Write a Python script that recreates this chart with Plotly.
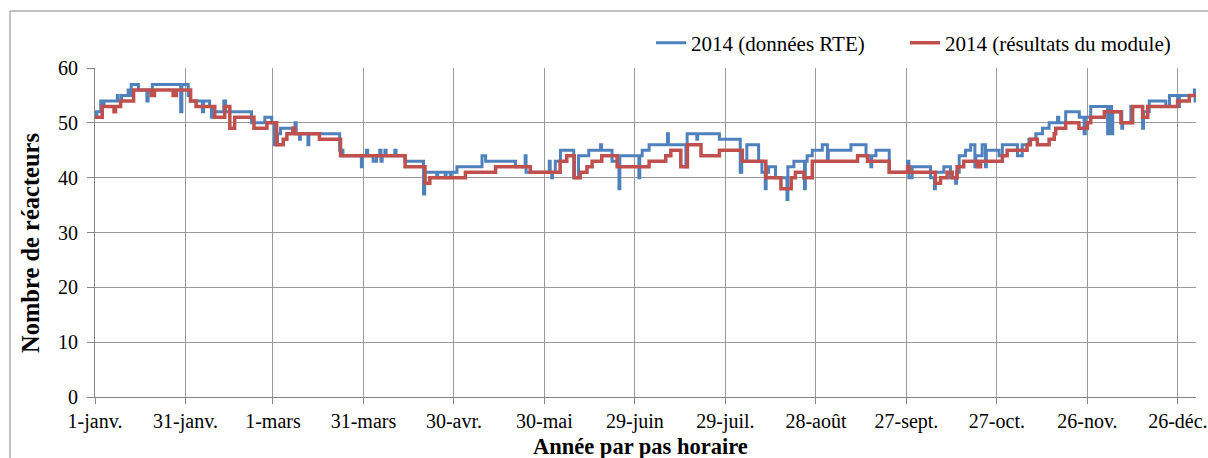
import plotly.graph_objects as go

# Tick labels (day-of-year positions)
tick_days = [0, 30, 59, 89, 119, 149, 179, 209, 239, 269, 299, 329, 359]
tick_labels = ["1-janv.", "31-janv.", "1-mars", "31-mars", "30-avr.", "30-mai", "29-juin",
               "29-juil.", "28-août", "27-sept.", "27-oct.", "26-nov.", "26-déc."]

# 2014 (données RTE) : step change points (day of year, number of reactors)
rte_days = [0, 0.3, 0.6, 1.9, 2.6, 3.0, 7.0, 7.4, 7.7, 8.8, 11.0, 11.4, 12.0, 14.0, 14.4,
            16.8, 17.2, 17.6, 19.0, 28.4, 28.8, 30.9, 31.6, 35.6, 36.0, 38.0, 38.6, 39.3,
            42.7, 43.3, 51.9, 56.3, 58.6, 59.5, 60.5, 61.5, 66.3, 66.7, 67.8, 68.1, 70.6,
            70.9, 81.1, 82.2, 88.3, 88.6, 90.0, 90.4, 92.2, 93.3, 94.4, 94.8, 95.2, 96.1,
            96.5, 99.4, 99.8, 102.8, 108.9, 109.3, 113.3, 113.6, 116.1, 116.4, 117.8, 118.1,
            120.0, 128.3, 129.5, 139.4, 142.6, 142.9, 150.6, 150.9, 151.4, 151.7, 152.6,
            154.3, 158.7, 160.3, 163.7, 167.6, 167.9, 171.4, 173.7, 174.0, 180.3, 180.6,
            181.4, 183.7, 189.8, 190.1, 195.9, 196.3, 199.5, 199.8, 207.0, 213.9, 214.4,
            216.1, 220.0, 221.1, 222.2, 222.5, 223.3, 225.6, 229.4, 229.7, 231.7, 235.2,
            235.5, 236.1, 237.8, 241.1, 242.8, 243.1, 250.6, 255.6, 257.2, 257.5, 258.9,
            263.3, 269.4, 269.8, 270.9, 277.0, 278.3, 278.6, 281.4, 283.6, 285.3, 285.6,
            286.5, 288.6, 290.3, 291.7, 292.0, 294.1, 295.2, 295.5, 299.7, 300.8, 305.8,
            307.4, 309.6, 311.9, 314.1, 316.3, 319.1, 319.5, 321.8, 326.3, 327.9, 328.3,
            330.1, 335.7, 336.1, 337.0, 337.4, 340.4, 340.7, 343.4, 347.3, 347.6, 349.5,
            355.0, 356.2, 358.9, 359.5, 364.5, 364.7, 365.0]
rte_values = [52, 51, 52, 54, 53, 54, 54, 55, 54, 55, 56, 55, 57, 57, 56,
              56, 54, 56, 57, 52, 57, 55, 54, 52, 54, 53, 51, 52,
              54, 52, 50, 51, 50, 46, 48, 49, 50, 48, 47, 48, 46,
              48, 45, 44, 42, 44, 45, 44, 43, 44, 45, 43, 44, 45,
              44, 45, 44, 43, 37, 41, 40, 41, 40, 41, 40, 41,
              42, 44, 43, 42, 44, 41, 43, 41, 40, 41, 43,
              45, 40, 44, 45, 46, 45, 43, 38, 44, 40, 44,
              45, 46, 48, 46, 42, 48, 47, 48, 47, 41, 43,
              46, 43, 41, 38, 41, 42, 40, 36, 42, 43, 38,
              43, 44, 45, 46, 43, 45, 46, 44, 42, 44, 45,
              41, 43, 40, 42, 40, 38, 41, 42, 40, 39, 41,
              44, 45, 46, 42, 44, 46, 42, 45, 44, 46, 44,
              46, 47, 48, 49, 50, 51, 50, 52, 51, 48, 51,
              53, 48, 53, 48, 52, 49, 50, 53, 49, 52, 54,
              53, 55, 53, 55, 56, 54, 54]

# 2014 (résultats du module) : step change points
module_days = [0, 2.4, 6.3, 6.8, 8.5, 12.8, 18.6, 19.7, 25.9, 27.0, 31.7, 33.5, 39.7, 43.0,
               44.7, 46.3, 52.7, 57.0, 60.2, 62.4, 63.6, 65.6, 66.2, 74.4, 81.4, 102.8,
               109.4, 111.0, 122.8, 132.8, 144.3, 154.2, 156.4, 158.9, 160.9, 163.1, 164.8,
               168.0, 173.1, 183.7, 189.2, 190.9, 194.2, 196.4, 200.9, 207.0, 214.6, 222.4,
               227.4, 230.8, 232.2, 235.0, 237.8, 252.8, 256.1, 263.3, 269.4, 269.9, 278.6,
               280.3, 282.5, 284.2, 285.8, 288.0, 292.5, 293.6, 300.8, 302.4, 309.0, 310.1,
               312.4, 316.3, 318.0, 318.5, 321.8, 326.2, 329.0, 330.1, 334.6, 340.1, 344.0,
               347.3, 349.0, 358.9, 362.8, 365.0]
module_values = [51, 53, 52, 53, 54, 56, 55, 56, 55, 56, 54, 53, 51, 53,
                 49, 51, 49, 50, 46, 47, 48, 49, 48, 47, 44, 42,
                 39, 40, 41, 42, 41, 43, 44, 40, 41, 42, 43,
                 44, 42, 43, 44, 45, 42, 46, 44, 45, 43, 40,
                 38, 40, 41, 40, 43, 44, 43, 41, 42, 41, 39,
                 40, 41, 40, 42, 43, 42, 43, 44, 45, 46, 47,
                 46, 47, 48, 49, 50, 49, 50, 51, 52, 50, 53,
                 51, 53, 54, 55, 55]

x_title = "Année par pas horaire"
y_title = "Nombre de réacteurs"

FONT = "Liberation Serif"
GRID = "#9a9a9a"

fig = go.Figure()
fig.add_trace(go.Scatter(x=rte_days, y=rte_values, mode="lines", line_shape="hv",
                         name="2014 (données RTE)", legend="legend", showlegend=True,
                         line=dict(color="#4F81BD", width=3)))
fig.add_trace(go.Scatter(x=module_days, y=module_values, mode="lines", line_shape="hv",
                         name="2014 (résultats du module)", legend="legend2", showlegend=True,
                         line=dict(color="#C0504D", width=3.5)))

L, R, T, B = 95, 12, 68, 61
W, H = 1208, 458
pw, ph = W - L - R, H - T - B


def px(xp):
    return (xp - L) / pw


def py(yp):
    return (H - B - yp) / ph


legend_style = dict(orientation="h", xanchor="left", y=py(43), yanchor="middle",
                    font=dict(family=FONT, size=21), bgcolor="rgba(0,0,0,0)",
                    visible=True)

fig.update_layout(
    width=W, height=H,
    showlegend=True,
    margin=dict(l=L, r=R, t=T, b=B, autoexpand=False),
    paper_bgcolor="white", plot_bgcolor="white",
    font=dict(family=FONT, size=20, color="black"),
    legend=dict(x=px(651), **legend_style),
    legend2=dict(x=px(905), **legend_style),
    shapes=[dict(type="rect", xref="paper", yref="paper", layer="below",
                 x0=px(10), x1=px(1215), y0=py(470), y1=py(11),
                 line=dict(color="#868686", width=1), fillcolor="rgba(0,0,0,0)")],
    annotations=[
        dict(text="<b>" + x_title + "</b>", xref="paper", yref="paper",
             x=px(640), y=py(446), xanchor="center", yanchor="middle", showarrow=False,
             font=dict(family=FONT, size=22.5)),
        dict(text="<b>" + y_title + "</b>", xref="paper", yref="paper", textangle=-90,
             x=px(30), y=py(243), xanchor="center", yanchor="middle", showarrow=False,
             font=dict(family=FONT, size=24.5)),
    ],
)
fig.update_xaxes(range=[0, 365], tickmode="array", tickvals=tick_days, ticktext=tick_labels,
                 showgrid=True, gridcolor=GRID, gridwidth=1,
                 showline=True, linecolor="#868686", linewidth=1,
                 ticks="outside", ticklen=6, tickcolor="#868686",
                 tickfont=dict(family=FONT, size=20),
                 zeroline=False, automargin=False)
fig.update_yaxes(range=[0, 60], dtick=10, showgrid=True, gridcolor=GRID, gridwidth=1,
                 showline=True, linecolor="#868686", linewidth=1,
                 ticks="outside", ticklen=7, tickcolor="#868686",
                 tickfont=dict(family=FONT, size=20), ticklabelstandoff=5,
                 zeroline=False, automargin=False)

fig.write_html("out.html", config={"displayModeBar": False},
               post_script="document.body.style.margin='0';")
